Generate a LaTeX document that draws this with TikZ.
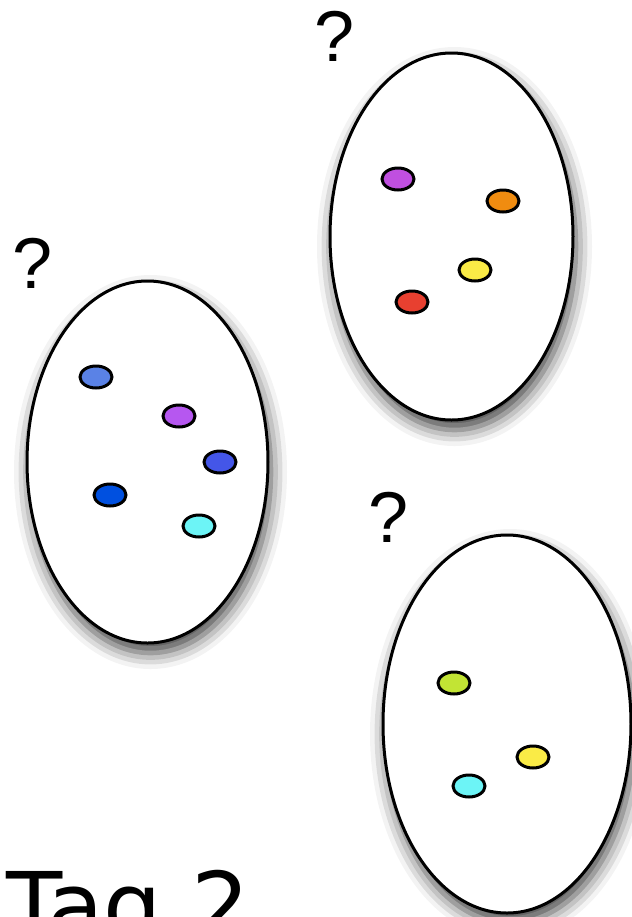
\documentclass[tikz,border=0pt]{standalone}
\usepackage{fontspec}
\usetikzlibrary{shadows.blur}
\newfontfamily\qfont{Liberation Sans}
\newfontfamily\tagfont{DejaVu Sans}

\definecolor{dotpurple}{HTML}{C04FE0}
\definecolor{dotorange}{HTML}{F08C10}
\definecolor{dotyellow}{HTML}{FAEB46}
\definecolor{dotred}{HTML}{E84030}
\definecolor{dotblue}{HTML}{5A82E6}
\definecolor{dotviolet}{HTML}{B657F0}
\definecolor{dotindigo}{HTML}{4456E8}
\definecolor{dotdeep}{HTML}{0050E0}
\definecolor{dotcyan}{HTML}{6CF4F6}
\definecolor{dotlime}{HTML}{C2E434}

\tikzset{
  blob/.style={draw=black, line width=1.5pt, fill=white,
    blur shadow={shadow xshift=1.5pt, shadow yshift=-5pt,
      shadow blur radius=8pt, shadow opacity=75}},
  dot/.style={draw=black, line width=1.5pt},
  ask/.style={inner sep=0pt, font=\qfont\fontsize{36}{36}\selectfont}
}

\begin{document}
\begin{tikzpicture}[x=0.5pt, y=-0.5pt]
  \useasboundingbox (0,0) rectangle (632,917);
  % sets
  \draw[blob] (451.5,236.5) ellipse (121.5 and 183.5);
  \draw[blob] (147.5,462) ellipse (120.5 and 181);
  \draw[blob] (507,724) ellipse (124 and 189);
  % top right set
  \filldraw[dot, fill=dotpurple] (398,179) ellipse (16 and 11);
  \filldraw[dot, fill=dotorange] (503,201) ellipse (16 and 11);
  \filldraw[dot, fill=dotyellow] (475,270) ellipse (16 and 11);
  \filldraw[dot, fill=dotred] (412,302) ellipse (16 and 11);
  % left set
  \filldraw[dot, fill=dotblue] (96,377) ellipse (16 and 11);
  \filldraw[dot, fill=dotviolet] (179,416) ellipse (16 and 11);
  \filldraw[dot, fill=dotindigo] (220,462) ellipse (16 and 11);
  \filldraw[dot, fill=dotdeep] (110,495) ellipse (16 and 11);
  \filldraw[dot, fill=dotcyan] (199,526) ellipse (16 and 11);
  % bottom right set
  \filldraw[dot, fill=dotlime] (454,683) ellipse (16 and 11);
  \filldraw[dot, fill=dotyellow] (533,757) ellipse (16 and 11);
  \filldraw[dot, fill=dotcyan] (469,786) ellipse (16 and 11);
  % labels
  \node[ask] (qtop) at (335,36) {?};
  \node[ask] (qleft) at (33,263) {?};
  \node[ask] (qbottom) at (389,517) {?};
  \node[inner sep=0pt, anchor=base west, font=\tagfont\fontsize{46}{46}\selectfont]
    (day) at (6,938) {Tag 2};
\end{tikzpicture}
\end{document}
